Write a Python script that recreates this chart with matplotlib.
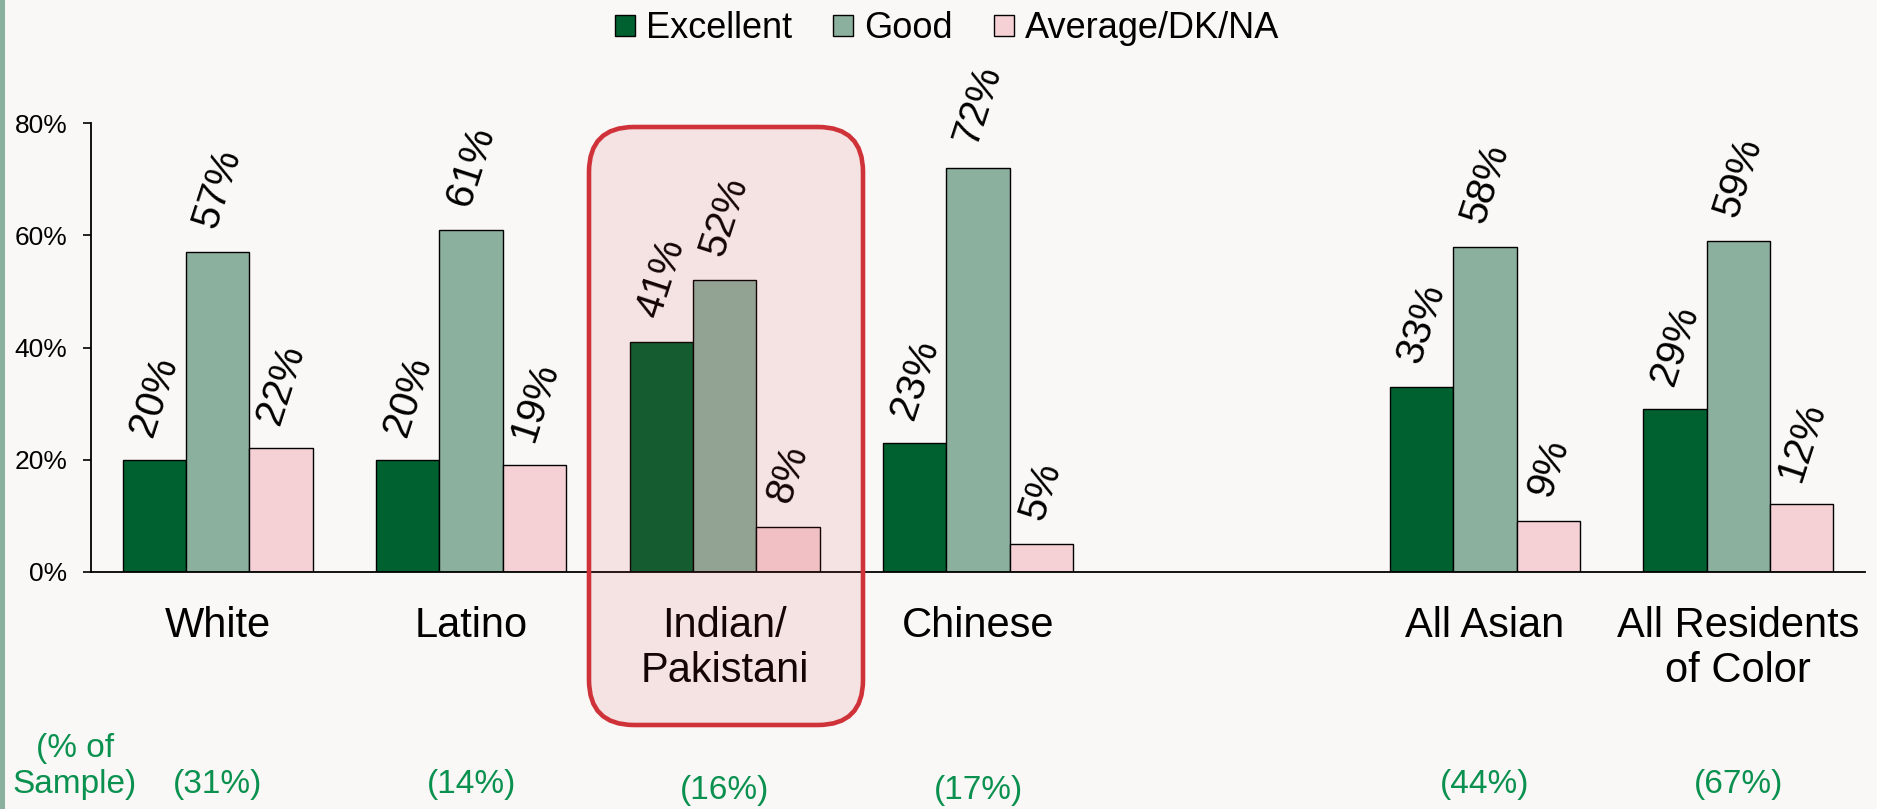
import numpy as np
import matplotlib
matplotlib.use("Agg")
import matplotlib.pyplot as plt
from matplotlib.patches import FancyBboxPatch, Rectangle, Patch
from matplotlib import transforms

plt.rcParams['font.family'] = ['Liberation Sans', 'DejaVu Sans']

# ---------------- data ----------------
categories = ['White', 'Latino', 'Indian/\nPakistani', 'Chinese', '', 'All Asian', 'All Residents\nof Color']
excellent = [20, 20, 41, 23, np.nan, 33, 29]
good      = [57, 61, 52, 72, np.nan, 58, 59]
average   = [22, 19, 8, 5, np.nan, 9, 12]
sample_share = [31, 14, 16, 17, np.nan, 44, 67]
series_names = ['Excellent', 'Good', 'Average/DK/NA']
y_ticks = [0, 20, 40, 60, 80]

# ---------------- style ----------------
BG = '#f9f8f6'
C_EXC = '#006130'
C_GOOD = '#8cb09e'
C_AVG = '#f5d1d5'
RED = '#d0323a'
GREEN_TXT = '#0b914f'

W, H = 18.77, 8.09
fig = plt.figure(figsize=(W, H), dpi=100, facecolor=BG)
ax = fig.add_axes([91/1877, 1-571.7/809, (1865-91)/1877, (571.7-123.3)/809])
ax.set_facecolor(BG)

x = np.arange(len(categories))
bw = 0.25
series = [excellent, good, average]
colors = [C_EXC, C_GOOD, C_AVG]
for i, (vals, col) in enumerate(zip(series, colors)):
    vals = np.array(vals, dtype=float)
    m = ~np.isnan(vals)
    xs = x[m] + (i - 1) * bw
    ax.bar(xs, vals[m], width=bw, color=col, edgecolor='black', linewidth=1.0, zorder=2)
    for xi, v in zip(xs, vals[m]):
        ax.annotate(f'{v:.0f}%', (xi, v), xytext=(0, 14), textcoords='offset points',
                    ha='center', va='bottom', rotation=72, fontsize=29, color='black', zorder=3)

ax.set_xlim(-0.5, len(categories) - 0.5)
ax.set_ylim(0, 80)
ax.set_yticks(y_ticks)
ax.set_yticklabels([f'{t}%' for t in y_ticks], fontsize=19)
ax.tick_params(axis='y', direction='out', length=6, width=1.2, pad=11)
ax.set_xticks(x)
ax.set_xticklabels(categories, fontsize=30, linespacing=1.15)
ax.tick_params(axis='x', length=0, pad=25)
for s in ['top', 'right']:
    ax.spines[s].set_visible(False)
for s in ['left', 'bottom']:
    ax.spines[s].set_linewidth(1.3)
    ax.spines[s].set_color('black')

# sample share row
trans = transforms.blended_transform_factory(ax.transData, fig.transFigure)
for i, s in enumerate(sample_share):
    if np.isnan(s):
        continue
    yy = 1 - 790/809 if i in (2, 3) else 1 - 785/809
    fig.text(0, 0, f'({s:.0f}%)', transform=trans, fontsize=24, color=GREEN_TXT,
             ha='center', va='center').set_position((i, yy))
fig.text(75/1877, 1-748/809, '(% of', fontsize=24, color=GREEN_TXT, ha='center', va='center')
fig.text(75/1877, 1-785/809, 'Sample)', fontsize=24, color=GREEN_TXT, ha='center', va='center')

# legend
handles = [Patch(facecolor=c, edgecolor='black', linewidth=1.0) for c in colors]
fig.legend(handles, series_names, loc='upper center', bbox_to_anchor=(0.5045, 0.993),
           ncol=3, frameon=False, fontsize=26, handlelength=0.55, handleheight=0.5,
           handletextpad=0.3, columnspacing=1.15, borderpad=0.15, borderaxespad=0.0)

# left stripe
fig.add_artist(Rectangle((0, 0), 5/1877, 1, transform=fig.transFigure,
                         facecolor=C_GOOD, edgecolor='none', zorder=1))

# highlight box
box = FancyBboxPatch((589/100, (809-725)/100), (863-589)/100, (725-127)/100,
                     boxstyle='round,pad=0,rounding_size=0.45',
                     transform=fig.dpi_scale_trans,
                     facecolor=(0.816, 0.196, 0.227, 0.1), edgecolor=RED, linewidth=3.3,
                     zorder=10)
fig.add_artist(box)

fig.savefig('out.png', dpi=100, facecolor=BG)
